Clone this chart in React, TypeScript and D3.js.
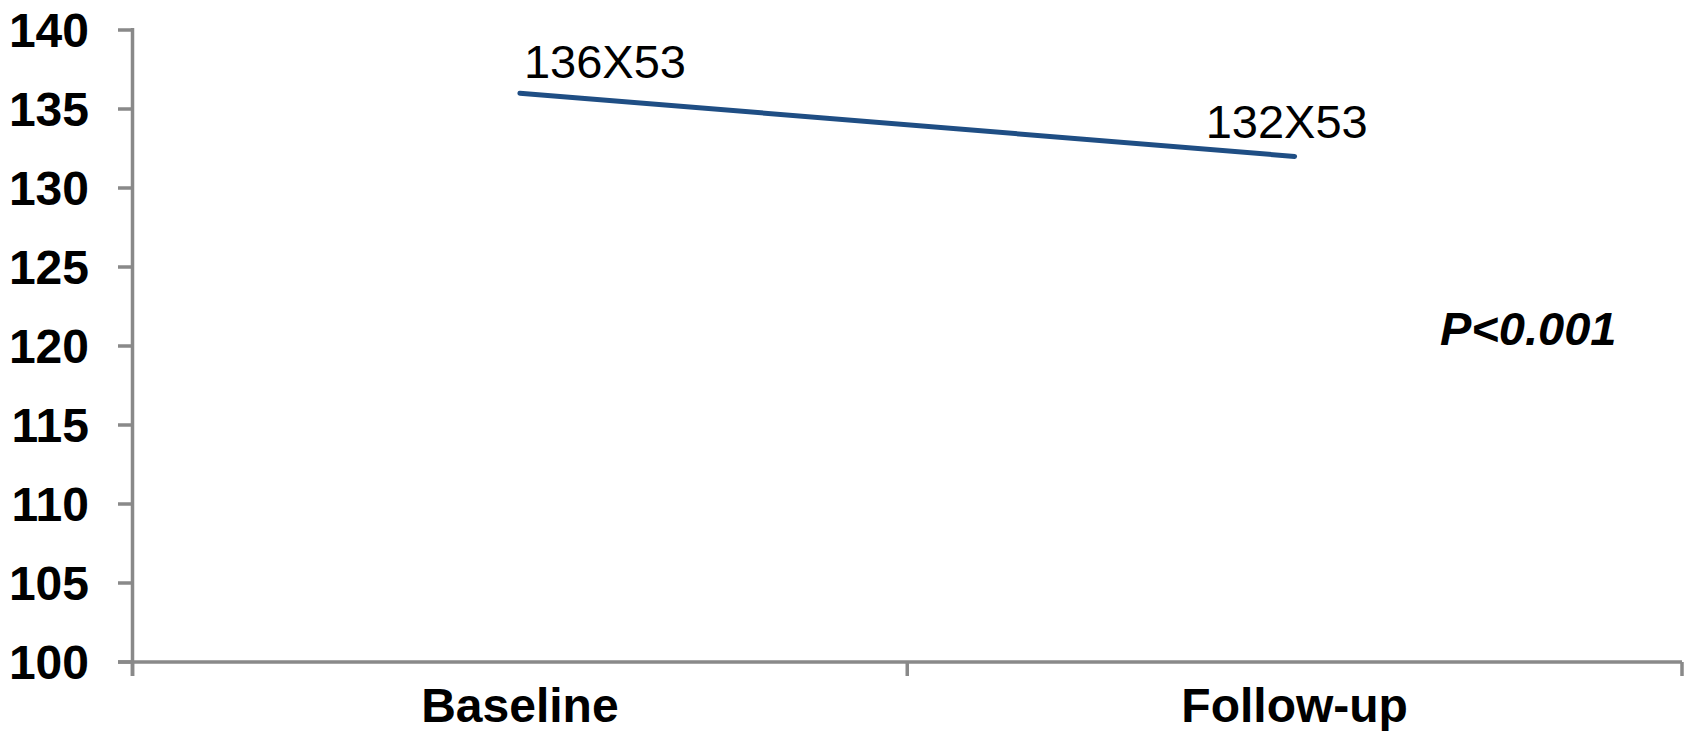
import React from "react";
import * as d3 from "d3";

const categories = ["Baseline", "Follow-up"];
const values = [136, 132];
const pointLabels = ["136X53", "132X53"];
const yTicks = [100, 105, 110, 115, 120, 125, 130, 135, 140];
const annotation = "P<0.001";

const W = 1685;
const H = 731;
const left = 132.5;
const right = 1682;
const top = 30;
const bottom = 662;
const font = "'Liberation Sans', Arial, Helvetica, sans-serif";
const axisColor = "#898989";

const labelOffsets = [
  { dx: 4, dy: -15 },
  { dx: -89, dy: -18 },
];

export default function App() {
  const x = d3.scaleBand<string>().domain(categories).range([left, right]).padding(0);
  const y = d3.scaleLinear().domain([100, 140]).range([bottom, top]);
  const cx = (c: string) => (x(c) as number) + x.bandwidth() / 2;
  const pts: [number, number][] = categories.map((c, i) => [cx(c), y(values[i])]);
  const line = d3.line()(pts) as string;
  const xTickPos = [left, ...categories.slice(1).map((c) => x(c) as number), right];

  return (
    <svg
      width={W}
      height={H}
      style={{ position: "absolute", left: 0, top: 0, display: "block", background: "#fff" }}
    >
      <line x1={left} x2={left} y1={top - 2} y2={bottom + 14} stroke={axisColor} strokeWidth={3.5} />
      {yTicks.map((t) => (
        <g key={t}>
          <line x1={118} x2={left} y1={y(t)} y2={y(t)} stroke={axisColor} strokeWidth={3.5} />
          <text
            x={89}
            y={y(t)}
            dy="0.35em"
            textAnchor="end"
            fontFamily={font}
            fontWeight="bold"
            fontSize={48}
            fill="#000"
          >
            {t}
          </text>
        </g>
      ))}
      <line x1={118} x2={right} y1={bottom} y2={bottom} stroke={axisColor} strokeWidth={3.5} />
      {xTickPos.map((p, i) => (
        <line key={i} x1={p} x2={p} y1={bottom} y2={bottom + 14} stroke={axisColor} strokeWidth={3.5} />
      ))}
      {categories.map((c) => (
        <text
          key={c}
          x={cx(c)}
          y={722}
          textAnchor="middle"
          fontFamily={font}
          fontWeight="bold"
          fontSize={48}
          fill="#000"
        >
          {c}
        </text>
      ))}
      <path d={line} fill="none" stroke="#1f4e84" strokeWidth={5} strokeLinecap="round" />
      {pts.map((p, i) => (
        <text
          key={i}
          x={p[0] + labelOffsets[i].dx}
          y={p[1] + labelOffsets[i].dy}
          fontFamily={font}
          fontSize={47}
          fill="#000"
        >
          {pointLabels[i]}
        </text>
      ))}
      <text
        x={1440}
        y={345}
        fontFamily={font}
        fontWeight="bold"
        fontStyle="italic"
        fontSize={47}
        fill="#000"
      >
        {annotation}
      </text>
    </svg>
  );
}
